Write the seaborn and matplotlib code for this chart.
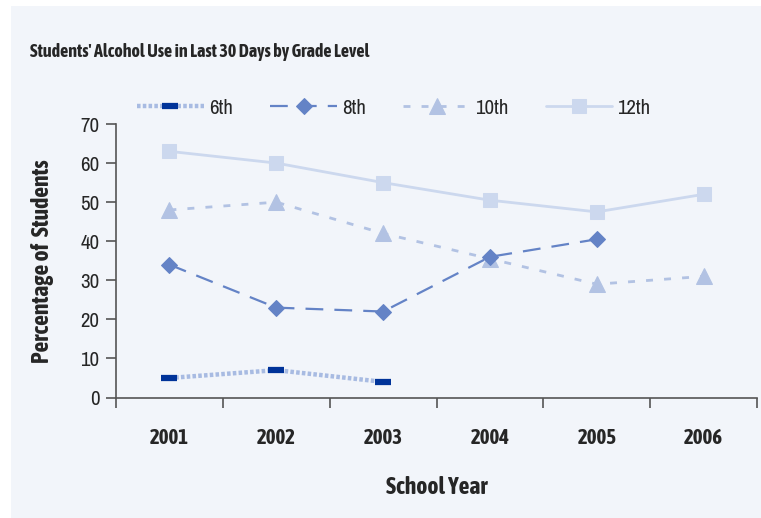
import numpy as np
import pandas as pd
import matplotlib
matplotlib.use('Agg')
import matplotlib.pyplot as plt
import seaborn as sns
from matplotlib.patches import Rectangle
from matplotlib import font_manager

# chart data
years = ['2001', '2002', '2003', '2004', '2005', '2006']
grade_6 = [5, 7, 4, np.nan, np.nan, np.nan]
grade_8 = [34, 23, 22, 36, 40.5, np.nan]
grade_10 = [48, 50, 42, 35.5, 29, 31]
grade_12 = [63, 60, 55, 50.5, 47.5, 52]
labels = ['6th', '8th', '10th', '12th']

sns.set_style('white')
# the original uses a narrow sans; find one, and one that has a bold face
fonts = font_manager.fontManager.ttflist
narrow = sorted({f.name for f in fonts if 'Narrow' in f.name or 'Condensed' in f.name})
narrow_bold = [n for n in narrow
               if any(f.name == n and f.weight in ('bold', 700, 'heavy', 800, 'semibold', 600) for f in fonts)]
plt.rcParams['font.family'] = narrow[:1] + ['Liberation Sans', 'DejaVu Sans']
bold_family = (narrow_bold[:1] or narrow[:1]) + ['Liberation Sans', 'DejaVu Sans']

bg = '#F2F5FA'
fig = plt.figure(figsize=(7.61, 5.18), dpi=100, facecolor='white')
fig.patches.append(Rectangle((11 / 761, 0), 1, 1 - 6 / 518, transform=fig.transFigure,
                             facecolor=bg, edgecolor='none', zorder=-10))
ax = fig.add_axes([116 / 761, 1 - 397.5 / 518, (757 - 116) / 761, (397.5 - 124) / 518])
ax.set_facecolor(bg)

x = np.arange(len(years))
df = pd.DataFrame({'x': x, '6th': grade_6, '8th': grade_8, '10th': grade_10, '12th': grade_12})

styles = {
    '6th': dict(color='#A8BBE2', linestyle=(0, (0.8, 0.5)), linewidth=3.2, marker='_',
                markersize=11, markeredgewidth=4.5, markeredgecolor='#003399', markerfacecolor='#003399'),
    '8th': dict(color='#6483C6', linestyle=(0, (8, 5)), linewidth=1.6, marker='D',
                markersize=8.5, markeredgecolor='#6483C6', markerfacecolor='#6483C6'),
    '10th': dict(color='#B2C2E3', linestyle=(0, (2.5, 4)), linewidth=2, marker='^',
                 markersize=11, markeredgecolor='#B2C2E3', markerfacecolor='#B2C2E3'),
    '12th': dict(color='#CCD8EE', linestyle='-', linewidth=2, marker='s',
                 markersize=10, markeredgecolor='#CCD8EE', markerfacecolor='#CCD8EE'),
}
for name in ['12th', '10th', '8th', '6th']:
    sub = df[['x', name]].dropna()
    sns.lineplot(data=sub, x='x', y=name, ax=ax, label=name, **styles[name])

ax.set_xlim(-0.5, len(years) - 0.5)
ax.set_ylim(0, 70)
ax.set_yticks(range(0, 71, 10))
ax.set_xticks(x)
ax.set_xticklabels(years, fontsize=15, fontweight='bold', family=bold_family)
ax.set_xticks(np.arange(-0.5, len(years), 1), minor=True)
ax.tick_params(axis='x', which='major', length=0, pad=22)
ax.tick_params(axis='x', which='minor', length=7, width=1.2, color='#555555', direction='out')
ax.tick_params(axis='y', length=7, width=1.2, color='#555555', direction='out', labelsize=15, pad=5)
ax.xaxis.set_ticks_position('bottom')
ax.yaxis.set_ticks_position('left')
for s in ['top', 'right']:
    ax.spines[s].set_visible(False)
for s in ['left', 'bottom']:
    ax.spines[s].set_color('#555555')
    ax.spines[s].set_linewidth(1.2)

ax.set_xlabel('School Year', fontsize=17, fontweight='bold', family=bold_family, labelpad=20)
ax.set_ylabel('Percentage of  Students', fontsize=17, fontweight='bold', family=bold_family, labelpad=19)

handles, lbls = ax.get_legend_handles_labels()
order = [lbls.index(l) for l in labels]
ax.legend([handles[i] for i in order], labels, loc='center left', bbox_to_anchor=(0.02, 1.058),
          ncol=4, frameon=False, fontsize=15, handlelength=3.2, columnspacing=1.8,
          handletextpad=0.24, borderaxespad=0.0)

fig.text(30 / 761, 1 - 52 / 518, "Students' Alcohol Use in Last 30 Days by Grade Level",
         fontsize=13, fontweight='bold', family=bold_family, va='center', ha='left')

fig.savefig('out.png', dpi=100, facecolor=fig.get_facecolor())
